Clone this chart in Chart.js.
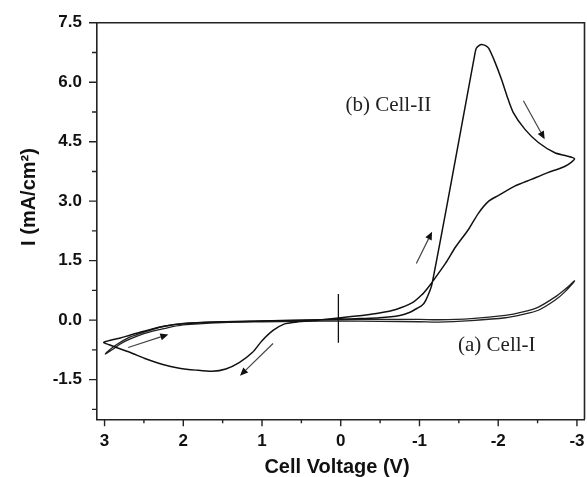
<!DOCTYPE html>
<html><head><meta charset="utf-8">
<script src="https://cdn.jsdelivr.net/npm/chart.js@4/dist/chart.umd.min.js"></script>
<style>html,body{margin:0;padding:0;background:#fff}</style>
</head><body>
<canvas id="c" width="587" height="477"></canvas>
<script>
// ---- Data ----
const cell2V = [0, -0.25, -0.49, -0.75, -0.88, -0.97, -1.03, -1.08, -1.16, -1.70, -1.72, -1.76, -1.79, -1.84, -1.88, -1.96, -2.04, -2.11, -2.19, -2.34, -2.51, -2.72, -2.85, -2.97,
  -2.85, -2.63, -2.42, -2.21, -2.0, -1.88, -1.75, -1.62, -1.46, -1.33, -1.18, -1.1, -1.03, -0.91, -0.7, -0.49, -0.27, 0, 0.3, 0.57, 0.72, 0.86, 1.0, 1.12, 1.29, 1.46, 1.63, 1.84, 2.05, 2.26, 2.47, 2.68, 2.85, 2.94, 3.01,
  2.8, 2.68, 2.5, 2.26, 2.0, 1.5, 1.0, 0.5, 0];
const cell2I = [0.02, 0.04, 0.06, 0.12, 0.2, 0.3, 0.37, 0.5, 0.92, 6.67, 6.85, 6.93, 6.95, 6.92, 6.85, 6.5, 6.08, 5.66, 5.24, 4.81, 4.48, 4.22, 4.15, 4.07,
  3.88, 3.72, 3.55, 3.38, 3.14, 3.0, 2.7, 2.28, 1.85, 1.43, 1.01, 0.8, 0.64, 0.44, 0.27, 0.18, 0.12, 0.06, 0.0, -0.05, -0.1, -0.26, -0.52, -0.81, -1.07, -1.23, -1.29, -1.26, -1.21, -1.12, -0.98, -0.81, -0.69, -0.62, -0.56,
  -0.45, -0.38, -0.28, -0.16, -0.09, -0.04, -0.02, 0.0, 0.02];

const cell1V = [0, -0.5, -1.0, -1.24, -1.66, -2.09, -2.3, -2.51, -2.72, -2.85, -2.97,
  -2.85, -2.72, -2.51, -2.3, -2.09, -1.66, -1.24, -1.0, -0.5, 0, 0.5, 1.0, 1.5, 2.0, 2.26, 2.5, 2.68, 2.85, 2.99,
  2.9, 2.8, 2.68, 2.5, 2.26, 2.0, 1.5, 1.0, 0.5, 0];
const cell1I = [-0.02, -0.03, -0.04, -0.05, -0.01, 0.06, 0.14, 0.25, 0.5, 0.72, 0.99,
  0.78, 0.58, 0.33, 0.2, 0.12, 0.04, 0.01, 0.02, 0.02, 0.02, 0.0, -0.02, -0.04, -0.08, -0.16, -0.3, -0.43, -0.62, -0.85,
  -0.74, -0.6, -0.48, -0.34, -0.22, -0.12, -0.06, -0.04, -0.03, -0.02];

const markerV = [0.03, 0.03];
const markerI = [0.66, -0.57];

// arrows: start -> end (head at end)
const arrowStartV = [-2.32, -0.96, 0.86, 2.70];
const arrowStartI = [5.53, 1.43, -0.59, -0.69];
const arrowEndV   = [-2.59, -1.16, 1.28, 2.19];
const arrowEndI   = [4.56, 2.23, -1.40, -0.36];

const xTicks = [3, 2, 1, 0, -1, -2, -3];
const xTickLabels = ['3', '2', '1', '0', '-1', '-2', '-3'];
const xMinorTicks = [2.5, 1.5, 0.5, -0.5, -1.5, -2.5];
const yTicks = [-1.5, 0, 1.5, 3, 4.5, 6, 7.5];
const yTickLabels = ['-1.5', '0.0', '1.5', '3.0', '4.5', '6.0', '7.5'];
const yMinorTicks = [-2.25, -0.75, 0.75, 2.25, 3.75, 5.25, 6.75];

const seriesLabels = ['(b) Cell-II', '(a) Cell-I'];
const labelV = [-0.06, -1.49];
const labelI = [5.27, -0.78];

const xTitle = 'Cell Voltage (V)';
const yTitle = 'I (mA/cm²)';

const zip = (a, b) => a.map((v, i) => ({x: v, y: b[i]}));

const decor = {
  id: 'decor',
  afterDatasetsDraw(chart) {
    const {ctx, chartArea: a, scales: {x, y}} = chart;
    ctx.save();
    ctx.strokeStyle = '#222'; ctx.lineWidth = 1.6;
    ctx.beginPath();
    ctx.moveTo(a.left, a.top); ctx.lineTo(a.right, a.top); ctx.lineTo(a.right, a.bottom);
    ctx.stroke();
    ctx.lineWidth = 1.4;
    ctx.beginPath();
    xTicks.forEach(v => { const p = x.getPixelForValue(v); ctx.moveTo(p, a.bottom); ctx.lineTo(p, a.bottom + 7); });
    xMinorTicks.forEach(v => { const p = x.getPixelForValue(v); ctx.moveTo(p, a.bottom); ctx.lineTo(p, a.bottom + 4); });
    yTicks.forEach(v => { const p = y.getPixelForValue(v); ctx.moveTo(a.left, p); ctx.lineTo(a.left - 8, p); });
    yMinorTicks.forEach(v => { const p = y.getPixelForValue(v); ctx.moveTo(a.left, p); ctx.lineTo(a.left - 5, p); });
    ctx.stroke();
    for (let i = 0; i < arrowStartV.length; i++) {
      const x0 = x.getPixelForValue(arrowStartV[i]), y0 = y.getPixelForValue(arrowStartI[i]);
      const x1 = x.getPixelForValue(arrowEndV[i]), y1 = y.getPixelForValue(arrowEndI[i]);
      const ang = Math.atan2(y1 - y0, x1 - x0);
      const hl = 8, hw = 3.5;
      const bx = x1 - hl * Math.cos(ang), by = y1 - hl * Math.sin(ang);
      ctx.strokeStyle = '#444'; ctx.lineWidth = 1.2;
      ctx.beginPath(); ctx.moveTo(x0, y0); ctx.lineTo(bx, by); ctx.stroke();
      ctx.fillStyle = '#111';
      ctx.beginPath();
      ctx.moveTo(x1, y1);
      ctx.lineTo(bx + hw * Math.sin(ang), by - hw * Math.cos(ang));
      ctx.lineTo(bx - hw * Math.sin(ang), by + hw * Math.cos(ang));
      ctx.closePath(); ctx.fill();
    }
    ctx.fillStyle = '#222';
    ctx.font = '21px "Liberation Serif", serif';
    ctx.textAlign = 'left'; ctx.textBaseline = 'alphabetic';
    seriesLabels.forEach((t, i) => ctx.fillText(t, x.getPixelForValue(labelV[i]), y.getPixelForValue(labelI[i])));
    ctx.fillStyle = '#111';
    ctx.font = 'bold 20px "Liberation Sans", Arial, sans-serif';
    ctx.textAlign = 'center'; ctx.textBaseline = 'middle';
    ctx.fillText(xTitle, 337, 467);
    ctx.translate(29, 197); ctx.rotate(-Math.PI / 2);
    ctx.fillText(yTitle, 0, 0);
    ctx.restore();
  }
};

new Chart(document.getElementById('c'), {
  type: 'line',
  data: {
    datasets: [
      {data: zip(cell2V, cell2I), borderColor: '#111', borderWidth: 1.5, pointRadius: 0, tension: 0.25, fill: false},
      {data: zip(cell1V, cell1I), borderColor: '#222', borderWidth: 1.3, pointRadius: 0, tension: 0.3, fill: false},
      {data: zip(markerV, markerI), borderColor: '#111', borderWidth: 1.3, pointRadius: 0, fill: false}
    ]
  },
  options: {
    responsive: false, animation: false,
    layout: {padding: {left: 0, top: 22.7, right: 2.5, bottom: 0}},
    plugins: {legend: {display: false}, tooltip: {enabled: false}},
    scales: {
      x: {
        type: 'linear', reverse: true, min: -3.096, max: 3.096,
        afterBuildTicks: s => { s.ticks = xTicks.map(v => ({value: v})); },
        afterFit: s => { s.height = 57.7; s.paddingLeft = 0; s.paddingRight = 0; },
        grid: {display: false, drawTicks: false},
        border: {display: true, color: '#222', width: 1.6},
        ticks: {
          padding: 12, color: '#111',
          font: {family: '"Liberation Sans", Arial, sans-serif', size: 17, weight: 'bold'},
          callback: (v, i) => xTickLabels[i], maxRotation: 0, autoSkip: false
        }
      },
      y: {
        type: 'linear', min: -2.5, max: 7.5,
        afterBuildTicks: s => { s.ticks = yTicks.map(v => ({value: v})); },
        afterFit: s => { s.width = 97; s.paddingTop = 0; s.paddingBottom = 0; },
        grid: {display: false, drawTicks: false},
        border: {display: true, color: '#222', width: 1.6},
        ticks: {
          padding: 15, color: '#111',
          font: {family: '"Liberation Sans", Arial, sans-serif', size: 17, weight: 'bold'},
          callback: (v, i) => yTickLabels[i], autoSkip: false
        }
      }
    }
  },
  plugins: [decor]
});
</script>
</body></html>
